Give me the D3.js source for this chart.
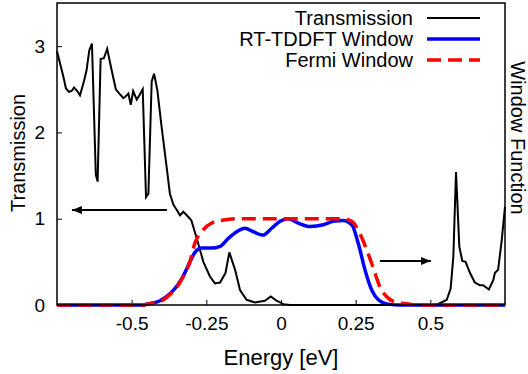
<!DOCTYPE html>
<html>
<head>
<meta charset="utf-8">
<script src="https://cdn.jsdelivr.net/npm/d3@7"></script>
<style>
  body { margin: 0; background: #fff; }
  text { font-family: "Liberation Sans", Arial, sans-serif; fill: #000; }
</style>
</head>
<body>
<div id="chart"></div>
<script>
// transmission curve
const transE = [-0.75, -0.729, -0.72, -0.71, -0.701, -0.693, -0.682, -0.673, -0.66, -0.651, -0.642, -0.633,
  -0.62, -0.614, -0.604, -0.593, -0.582, -0.567, -0.553, -0.539, -0.528, -0.522, -0.511, -0.503, -0.495,
  -0.483, -0.474, -0.463, -0.452, -0.444, -0.433, -0.425, -0.414, -0.4, -0.383, -0.372, -0.36, -0.349,
  -0.338, -0.327, -0.31, -0.3, -0.282, -0.26, -0.238, -0.221, -0.204, -0.186, -0.173, -0.154, -0.137,
  -0.115, -0.087, -0.054, -0.034, -0.015, 0.008, 0.03, 0.52, 0.532, 0.555, 0.568, 0.577, 0.586, 0.597,
  0.607, 0.618, 0.633, 0.649, 0.666, 0.677, 0.696, 0.711, 0.716, 0.727, 0.739, 0.75];
const transT = [2.94, 2.65, 2.51, 2.47, 2.48, 2.52, 2.48, 2.43, 2.59, 2.72, 2.95, 3.03,
  1.51, 1.43, 2.85, 2.86, 2.97, 2.72, 2.5, 2.44, 2.4, 2.41, 2.45, 2.32, 2.48,
  2.38, 2.43, 2.5, 1.25, 1.29, 2.59, 2.68, 2.49, 2.07, 1.6, 1.29, 1.16, 1.1,
  1.04, 1.08, 1.02, 0.98, 0.77, 0.5, 0.33, 0.25, 0.26, 0.37, 0.61, 0.41, 0.17,
  0.06, 0.03, 0.05, 0.1, 0.05, 0.01, 0, 0, 0.02, 0.06, 0.19, 0.56, 1.54, 0.68,
  0.51, 0.5, 0.37, 0.26, 0.23, 0.23, 0.18, 0.29, 0.37, 0.41, 0.75, 1.14];

// RT-TDDFT window
const rtE = [-0.75, -0.46, -0.45, -0.405, -0.372, -0.344, -0.321, -0.305, -0.288, -0.266, -0.232, -0.204,
  -0.177, -0.148, -0.121, -0.093, -0.061, -0.031, -0.003, 0.025, 0.058, 0.097, 0.142, 0.175, 0.208,
  0.237, 0.259, 0.281, 0.304, 0.326, 0.358, 0.4, 0.75];
const rtW = [0, 0, 0.01, 0.05, 0.13, 0.24, 0.38, 0.5, 0.61, 0.66, 0.66, 0.68,
  0.77, 0.85, 0.89, 0.85, 0.81, 0.89, 0.97, 1.0, 0.95, 0.91, 0.93, 0.97, 0.98,
  0.93, 0.71, 0.41, 0.17, 0.06, 0.01, 0, 0];

// Fermi window
const fermiE = [-0.75, -0.46, -0.45, -0.405, -0.372, -0.344, -0.321, -0.305, -0.288, -0.266, -0.232,
  -0.193, -0.15, 0.2, 0.237, 0.264, 0.287, 0.309, 0.331, 0.359, 0.387, 0.432, 0.46, 0.75];
const fermiW = [0, 0, 0.01, 0.04, 0.12, 0.23, 0.37, 0.5, 0.72, 0.85, 0.95,
  0.985, 1.0, 1.0, 0.97, 0.83, 0.64, 0.43, 0.21, 0.08, 0.03, 0.01, 0, 0];

const xTicks = [-0.5, -0.25, 0, 0.25, 0.5];
const yTicks = [0, 1, 2, 3];
const legendNames = ['Transmission', 'RT-TDDFT Window', 'Fermi Window'];
// arrows: [E from, E to, value]
const arrows = [[-0.382, -0.70, 1.10], [0.331, 0.502, 0.51]];

const width = 528, height = 374;
const margin = { left: 57, right: 23, top: 3, bottom: 69 };

const svg = d3.select('#chart').append('svg')
    .attr('width', width)
    .attr('height', height);

const x = d3.scaleLinear().domain([-0.75, 0.75]).range([margin.left, width - margin.right]);
const y = d3.scaleLinear().domain([0, 3.5]).range([height - margin.bottom, margin.top]);

// ticks
svg.append('g')
    .attr('transform', `translate(0,${height - margin.bottom})`)
    .call(d3.axisBottom(x).tickValues(xTicks).tickSizeInner(-5).tickSizeOuter(0).tickPadding(12)
        .tickFormat(d => String(d)))
    .call(g => g.select('.domain').remove())
    .call(g => g.selectAll('text').attr('font-size', 19).attr('font-family', '"Liberation Sans", Arial, sans-serif'))
    .call(g => g.selectAll('line').attr('stroke', '#000'));

svg.append('g')
    .attr('transform', `translate(${margin.left},0)`)
    .call(d3.axisLeft(y).tickValues(yTicks).tickSizeInner(-5).tickSizeOuter(0).tickPadding(12)
        .tickFormat(d => String(d)))
    .call(g => g.select('.domain').remove())
    .call(g => g.selectAll('text').attr('font-size', 19).attr('font-family', '"Liberation Sans", Arial, sans-serif'))
    .call(g => g.selectAll('line').attr('stroke', '#000'));

const lineT = d3.line().x(d => x(d[0])).y(d => y(d[1]));
const lineW = d3.line().x(d => x(d[0])).y(d => y(d[1])).curve(d3.curveMonotoneX);

svg.append('path')
    .datum(d3.zip(transE, transT))
    .attr('d', lineT)
    .attr('fill', 'none')
    .attr('stroke', '#000')
    .attr('stroke-width', 2)
    .attr('stroke-linejoin', 'miter');

svg.append('path')
    .datum(d3.zip(rtE, rtW))
    .attr('d', lineW)
    .attr('fill', 'none')
    .attr('stroke', '#0000ff')
    .attr('stroke-width', 3.5);

svg.append('path')
    .datum(d3.zip(fermiE, fermiW))
    .attr('d', lineW)
    .attr('fill', 'none')
    .attr('stroke', '#ff0000')
    .attr('stroke-width', 3.5)
    .attr('stroke-dasharray', '14,7');

// arrows
svg.append('defs').append('marker')
    .attr('id', 'head')
    .attr('viewBox', '0 0 10 8')
    .attr('refX', 10).attr('refY', 4)
    .attr('markerWidth', 10).attr('markerHeight', 8)
    .attr('markerUnits', 'userSpaceOnUse')
    .attr('orient', 'auto')
    .append('path')
    .attr('d', 'M0,0L10,4L0,8Z')
    .attr('fill', '#000');

svg.selectAll('.arrow')
    .data(arrows)
    .join('line')
    .attr('class', 'arrow')
    .attr('x1', d => x(d[0])).attr('x2', d => x(d[1]))
    .attr('y1', d => y(d[2])).attr('y2', d => y(d[2]))
    .attr('stroke', '#000')
    .attr('stroke-width', 2)
    .attr('marker-end', 'url(#head)');

// frame
svg.append('rect')
    .attr('x', margin.left).attr('y', margin.top)
    .attr('width', width - margin.left - margin.right)
    .attr('height', height - margin.top - margin.bottom)
    .attr('fill', 'none')
    .attr('stroke', '#000')
    .attr('stroke-width', 1.5);

// legend
const legend = svg.append('g');
const styles = [
  { color: '#000', w: 2, dash: null },
  { color: '#0000ff', w: 3.5, dash: null },
  { color: '#ff0000', w: 3.5, dash: '14,7' }
];
legendNames.forEach((name, i) => {
  const ly = 18 + i * 21;
  legend.append('text')
      .attr('x', 413).attr('y', ly)
      .attr('dy', '0.35em')
      .attr('text-anchor', 'end')
      .attr('font-size', 20)
      .text(name);
  legend.append('line')
      .attr('x1', 427).attr('x2', 480)
      .attr('y1', ly).attr('y2', ly)
      .attr('stroke', styles[i].color)
      .attr('stroke-width', styles[i].w)
      .attr('stroke-dasharray', styles[i].dash);
});

// axis labels
svg.append('text')
    .attr('transform', 'translate(25,153) rotate(-90)')
    .attr('text-anchor', 'middle')
    .attr('font-size', 20)
    .text('Transmission');

svg.append('text')
    .attr('transform', 'translate(511,138) rotate(90)')
    .attr('text-anchor', 'middle')
    .attr('font-size', 20)
    .text('Window Function');

svg.append('text')
    .attr('x', x(0)).attr('y', 365)
    .attr('text-anchor', 'middle')
    .attr('font-size', 22)
    .text('Energy [eV]');
</script>
</body>
</html>
